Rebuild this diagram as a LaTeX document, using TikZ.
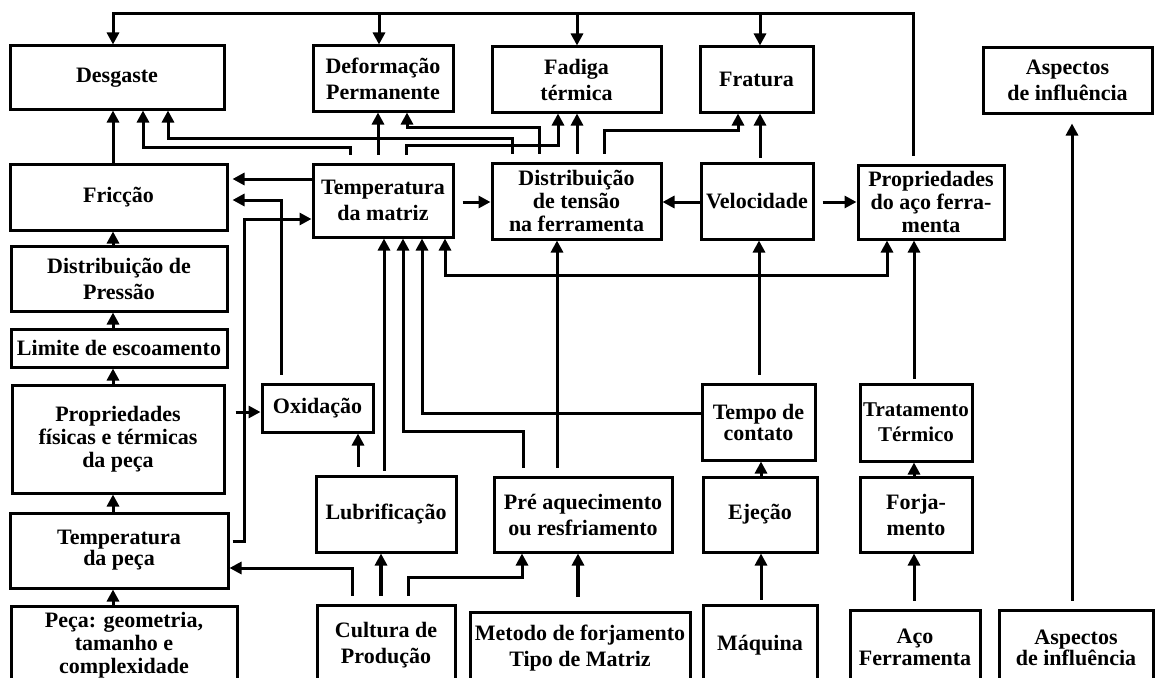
\documentclass[tikz,border=0pt]{standalone}
\usepackage{fontspec}
\setmainfont{Liberation Serif}
\usetikzlibrary{arrows.meta}
% box given by its corner coordinates: name, x1, y1, x2, y2, extra options, text
\newcommand\bxnode[7]{%
  \pgfmathsetmacro\bxcx{(#2+#4)/2}%
  \pgfmathsetmacro\bxcy{(#3+#5)/2}%
  \pgfmathsetmacro\bxw{#4-#2}%
  \pgfmathsetmacro\bxh{#5-#3}%
  \node[bx, minimum width=\bxw pt, minimum height=\bxh pt, #6] (#1) at (\bxcx,\bxcy) {#7};}
\begin{document}
\begin{tikzpicture}[x=1pt,y=-1pt,
  bx/.style={draw, line width=3pt, inner sep=0pt, align=center,
    font=\fontsize{22}{26}\selectfont\bfseries},
  tight/.style={font=\fontsize{22}{23}\selectfont\bfseries},
  snug/.style={font=\fontsize{22}{21}\selectfont\bfseries},
  arr/.style={line width=3pt, -{Triangle[length=12pt,width=12pt]}},
  twoway/.style={line width=3pt, {Triangle[length=12pt,width=12pt]}-{Triangle[length=12pt,width=12pt]}},
  gap/.style={shorten <=8pt},
  smallgap/.style={shorten <=4pt}]
\useasboundingbox[fill=white] (0,0) rectangle (1155,677);

% ---- effects (top row) ----
\bxnode{desg}{10}{46}{224}{109}{}{Desgaste}
\bxnode{defo}{313}{46}{453}{111}{}{Deformação\\Permanente}
\bxnode{fad}{492}{47}{661}{112}{}{Fadiga\\térmica}
\bxnode{frat}{700}{47}{813}{112}{}{Fratura}
\bxnode{asp1}{983}{48}{1152}{113}{}{Aspectos\\de influência}

% ---- second row ----
\bxnode{fric}{10}{164}{227}{230}{}{Fricção}
\bxnode{tmat}{313}{164}{453}{237}{}{Temperatura\\da matriz}
\bxnode{dten}{492}{163}{661}{239}{tight}{Distribuição\\de tensão\\na ferramenta}
\bxnode{velo}{701}{163}{813}{239}{}{Velocidade}
\bxnode{paco}{858}{165}{1004}{239}{tight}{Propriedades\\do aço ferra-\\menta}

% ---- left column ----
\bxnode{dpres}{11}{246}{227}{311}{}{Distribuição de\\Pressão}
\bxnode{lim}{11}{329}{227}{367}{}{Limite de escoamento}
\bxnode{pfis}{12}{385}{224}{493}{tight}{Propriedades\\físicas e térmicas\\da peça}
\bxnode{temp}{10}{513}{228}{588}{snug}{Temperatura\\da peça}
\bxnode{peca}{11}{606}{237}{685}{tight}{Peça: geometria,\\tamanho e\\complexidade}

% ---- middle ----
\bxnode{oxi}{262}{384}{373}{432}{}{Oxidação}
\bxnode{tcon}{702}{384}{815}{460}{snug}{Tempo de\\contato}
\bxnode{ttrm}{860}{384}{972}{461}{font=\fontsize{21}{25}\selectfont\bfseries}{Tratamento\\Térmico}
\bxnode{lub}{316}{476}{456}{552}{}{Lubrificação}
\bxnode{pre}{494}{477}{672}{552}{}{Pré aquecimento\\ou resfriamento}
\bxnode{ejec}{703}{477}{817}{552}{}{Ejeção}
\bxnode{forj}{860}{477}{972}{552}{}{Forja-\\mento}

% ---- bottom row (runs off the lower edge) ----
\bxnode{cult}{317}{605}{455}{685}{}{Cultura de\\Produção}
\bxnode{met}{470}{612}{690}{685}{}{Metodo de forjamento\\Tipo de Matriz}
\bxnode{maq}{703}{605}{817}{685}{}{Máquina}
\bxnode{aco}{850}{610}{980}{685}{font=\fontsize{22}{22}\selectfont\bfseries}{Aço\\Ferramenta}
\bxnode{asp2}{999}{610}{1153}{685}{snug}{Aspectos\\de influência}

% ---- feedback line along the top ----
\coordinate (t1) at (379,14);
\coordinate (t2) at (577,14);
\coordinate (t3) at (760,14);
\draw[arr, gap] (913,0 |- paco.north) |- (113,14) -- (113,0 |- desg.north);
\draw[arr] (t1) -- (t1 |- defo.north);
\draw[arr] (t2) -- (t2 |- fad.north);
\draw[arr] (t3) -- (t3 |- frat.north);

% ---- into the top row ----
\draw[arr] (113,0 |- fric.north) -- (113,0 |- desg.south);
\draw[arr, gap] (350,0 |- tmat.north) |- (143,147) -- (143,0 |- desg.south);
\draw[arr, gap] (512,0 |- dten.north) |- (168,138) -- (168,0 |- desg.south);
\draw[arr, gap] (378,0 |- tmat.north) -- (378,0 |- defo.south);
\draw[arr, gap] (539,0 |- dten.north) |- (407,127) -- (407,0 |- defo.south);
\draw[arr, gap] (406,0 |- tmat.north) |- (558,145) -- (558,0 |- fad.south);
\draw[arr, gap] (577,0 |- dten.north) -- (577,0 |- fad.south);
\draw[arr, gap] (604,0 |- dten.north) |- (738,130) -- (738,0 |- frat.south);
\draw[arr, smallgap] (760,0 |- velo.north) -- (760,0 |- frat.south);

% ---- second row links ----
\draw[arr, shorten >=4pt] (tmat.west |- 0,179) -- (fric.east |- 0,179);
\draw[arr, gap, shorten >=4pt] (281,0 |- oxi.north) |- (fric.east |- 0,200);
\draw[arr, shorten <=3pt] (temp.east |- 0,541) -| (244,219) -- (tmat.west |- 0,219);
\draw[arr, gap] (tmat.east |- 0,202) -- (dten.west |- 0,202);
\draw[arr] (velo.west |- 0,202) -- (dten.east |- 0,202);
\draw[arr, gap] (velo.east |- 0,202) -- (paco.west |- 0,202);

% ---- into the die temperature ----
\draw[arr, smallgap] (384,0 |- lub.north) -- (384,0 |- tmat.south);
\draw[arr, gap] (523,0 |- pre.north) |- (403,431) -- (403,0 |- tmat.south);
\draw[arr] (tcon.west |- 0,413) -| (422,0 |- tmat.south);
\draw[twoway] (445,0 |- tmat.south) |- (887,275) -- (887,0 |- paco.south);
\draw[arr, gap] (557,0 |- pre.north) -- (557,0 |- dten.south);
\draw[arr, gap] (759,0 |- tcon.north) -- (759,0 |- velo.south);

% ---- oxidation ----
\draw[arr, shorten <=10pt] (pfis.east |- 0,412) -- (oxi.west |- 0,412);
\draw[arr, gap] (358,0 |- lub.north) -- (358,0 |- oxi.south);

% ---- left column chain ----
\draw[arr] (113,0 |- dpres.north) -- (113,0 |- fric.south);
\draw[arr] (113,0 |- lim.north) -- (113,0 |- dpres.south);
\draw[arr] (113,0 |- pfis.north) -- (113,0 |- lim.south);
\draw[arr] (113,0 |- temp.north) -- (113,0 |- pfis.south);
\draw[arr] (113,0 |- peca.north) -- (113,0 |- temp.south);

% ---- production culture ----
\draw[arr, gap] (352,0 |- cult.north) |- (temp.east |- 0,568);
\draw[arr, gap, line width=4.5pt] (381,0 |- cult.north) -- (381,0 |- lub.south);
\draw[arr, gap] (408,0 |- cult.north) |- (522,577) -- (522,0 |- pre.south);
\draw[arr, shorten <=14pt, line width=4pt] (578,0 |- met.north) -- (578,0 |- pre.south);

% ---- machine and tool steel ----
\draw[arr, smallgap] (761,0 |- maq.north) -- (761,0 |- ejec.south);
\draw[arr] (761,0 |- ejec.north) -- (761,0 |- tcon.south);
\draw[arr, gap] (914,0 |- aco.north) -- (914,0 |- forj.south);
\draw[arr] (914,0 |- forj.north) -- (914,0 |- ttrm.south);
\draw[arr, smallgap] (914,0 |- ttrm.north) -- (914,0 |- paco.south);

% ---- legend ----
\draw[arr, gap, shorten >=9pt] (1072,0 |- asp2.north) -- (1072,0 |- asp1.south);
\end{tikzpicture}
\end{document}
